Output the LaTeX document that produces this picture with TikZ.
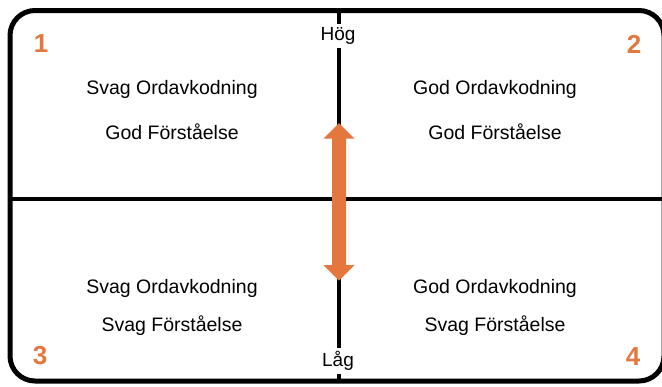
\documentclass[tikz,border=0pt]{standalone}
\usepackage{fontspec}
\setmainfont{Liberation Sans}
\definecolor{accent}{RGB}{227,119,62}
\begin{document}
\begin{tikzpicture}[x=1pt,y=-1pt,
  frame/.style={line width=5pt},
  axis/.style={line width=4.5pt},
  label/.style={font=\fontsize{19.5}{23}\selectfont, text=black, inner sep=0pt},
  pole/.style={font=\fontsize{19}{23}\selectfont, fill=white, inner xsep=1pt, inner ysep=3pt},
  corner/.style={font=\fontsize{26}{30}\selectfont\bfseries, text=accent, inner sep=0pt}]
\useasboundingbox (0,0) rectangle (662,386);
% outer frame
\draw[frame, rounded corners=25pt] (10,10.5) rectangle (664,381);
% axes
\coordinate (L) at (10,199);
\coordinate (R) at (664,199);
\coordinate (T) at (339,10.5);
\coordinate (B) at (339,381);
\draw[axis] (L) -- (R);
\draw[axis] (T) -- (B);
% axis ends
\node[pole] (hog) at (338,36) {Hög};
\node[pole] (lag) at (338,361) {Låg};
% double arrow
\fill[accent] (339,123) -- (354.5,138.5) -- (346,138.5) -- (346,265) -- (354.5,265)
  -- (339,280.5) -- (323.5,265) -- (332,265) -- (332,138.5) -- (323.5,138.5) -- cycle;
% quadrant texts
\node[label] (q1a) at (172,89.5) {Svag Ordavkodning};
\node[label] (q1b) at (172,131.5) {God Förståelse};
\node[label] (q2a) at (495,89.5) {God Ordavkodning};
\node[label] (q2b) at (495,131.5) {God Förståelse};
\node[label] (q3a) at (172,288) {Svag Ordavkodning};
\node[label] (q3b) at (172,326) {Svag Förståelse};
\node[label] (q4a) at (495,288) {God Ordavkodning};
\node[label] (q4b) at (495,326) {Svag Förståelse};
% quadrant numbers
\node[corner] (n1) at (41,44) {1};
\node[corner] (n2) at (634,44) {2};
\node[corner] (n3) at (40,356) {3};
\node[corner] (n4) at (633,357) {4};
\end{tikzpicture}
\end{document}
